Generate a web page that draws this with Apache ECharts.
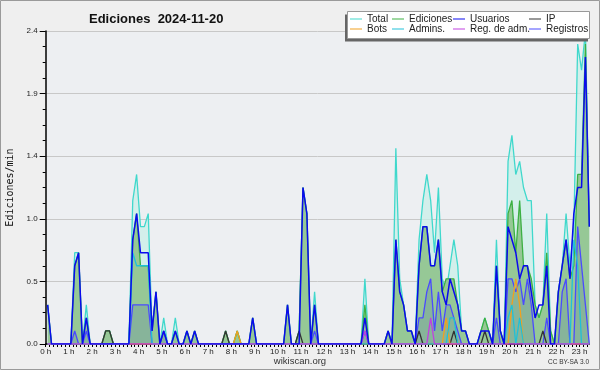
<!DOCTYPE html>
<html><head><meta charset="utf-8">
<script src="https://cdn.jsdelivr.net/npm/echarts@6/dist/echarts.min.js"></script>
<style>html,body{margin:0;padding:0;background:#efefef}#c{width:600px;height:370px}</style>
</head><body><div id="c"></div>
<script>
// 10-minute bins, value = edits per minute (bin centre at index*10+5 minutes)
const hourLabels = ['0 h','1 h','2 h','3 h','4 h','5 h','6 h','7 h','8 h','9 h','10 h','11 h','12 h','13 h','14 h','15 h','16 h','17 h','18 h','19 h','20 h','21 h','22 h','23 h'];
const yTicks = ['0.0','0.5','1.0','1.4','1.9','2.4'];
const total = [
.3,0,0,0,0,0,0,.7,.7,0,
.3,0,0,0,0,.1,.1,0,0,0,
0,0,1.1,1.3,.9,.9,1.0,.1,.4,0,
.2,0,0,.2,0,0,.1,0,.1,0,
0,0,0,0,0,0,.1,0,0,.1,
0,0,0,.2,0,0,0,0,0,0,
0,0,.3,0,0,.1,1.2,1.0,0,.4,
0,0,0,0,0,0,0,0,0,0,
0,0,.5,0,0,0,0,0,.1,0,
1.5,.5,.3,.1,.1,0,.8,1.1,1.3,1.1,
.7,1.2,.5,.4,.6,.8,.6,.1,.1,0,
0,0,.1,.2,.1,0,.8,.1,0,1.4,
1.6,1.3,1.4,1.2,1.1,1.1,.3,.2,.3,1.0,
.1,0,.4,.6,1.0,.6,.9,2.3,2.1,2.4,
.9];
const ediciones = [
.3,0,0,0,0,0,0,.6,.7,0,
.2,0,0,0,0,.1,.1,0,0,0,
0,0,.8,1.0,.6,.6,.6,.1,.4,0,
.1,0,0,.1,0,0,.1,0,.1,0,
0,0,0,0,0,0,.1,0,0,.1,
0,0,0,.2,0,0,0,0,0,0,
0,0,.3,0,0,.1,1.2,1.0,0,.3,
0,0,0,0,0,0,0,0,0,0,
0,0,.3,0,0,0,0,0,.1,0,
.8,.4,.3,.1,.1,0,.6,.9,.9,.6,
.6,.8,.4,.5,.5,.5,.3,.1,.1,0,
0,0,.1,.2,.1,0,.6,.1,0,1.0,
1.1,.7,1.1,.6,.6,.5,.3,.2,.3,.7,
.1,0,.4,.6,.8,.5,.6,1.3,1.3,2.3,
.9];
const usuarios = [
.3,0,0,0,0,0,0,.6,.7,0,
.2,0,0,0,0,0,0,0,0,0,
0,0,.8,1.0,.7,.7,.7,.1,.4,0,
.1,0,0,.1,0,0,.1,0,.1,0,
0,0,0,0,0,0,0,0,0,0,
0,0,0,.2,0,0,0,0,0,0,
0,0,.3,0,0,0,1.2,1.0,0,.3,
0,0,0,0,0,0,0,0,0,0,
0,0,.2,0,0,0,0,0,.1,0,
.8,.4,.3,.1,.1,0,.6,.9,.9,.6,
.6,.8,.4,.3,.5,.4,.3,.1,.1,0,
0,0,.1,.1,.1,0,.6,.1,0,.9,
.8,.7,.5,.6,.6,.4,.2,.3,.3,.6,
0,0,.4,.6,.8,.5,1.0,1.2,1.2,2.2,
.9];
const ip = [
0,0,0,0,0,0,0,0,0,0,
0,0,0,0,0,.1,.1,0,0,0,
0,0,0,0,0,0,0,0,0,0,
0,0,0,0,0,0,0,0,0,0,
0,0,0,0,0,0,.1,0,0,0,
0,0,0,0,0,0,0,0,0,0,
0,0,0,0,0,.1,0,0,0,0,
0,0,0,0,0,0,0,0,0,0,
0,0,0,0,0,0,0,0,0,0,
0,0,0,0,0,0,.1,0,0,0,
0,0,0,0,0,.1,0,0,0,0,
0,0,0,.1,0,0,0,0,0,0,
0,0,0,0,0,0,0,0,.1,0,
0,0,0,0,0,0,0,0,0,0,
0];
const bots = [
0,0,0,0,0,0,0,0,0,0,
0,0,0,0,0,0,0,0,0,0,
0,0,0,0,0,0,0,0,0,0,
0,0,0,0,0,0,0,0,0,0,
0,0,0,0,0,0,0,0,0,.1,
0,0,0,0,0,0,0,0,0,0,
0,0,0,0,0,0,0,0,0,0,
0,0,0,0,0,0,0,0,0,0,
0,0,0,0,0,0,0,0,0,0,
0,0,0,0,0,0,0,0,0,0,
0,0,0,.2,0,0,0,0,0,0,
0,0,0,0,0,0,0,0,0,0,
.3,.5,.3,0,0,0,0,0,0,0,
0,0,0,0,0,0,0,0,0,0,
0];
const admins = [
0,0,0,0,0,0,0,0,0,0,
0,0,0,0,0,0,0,0,0,0,
0,0,.7,.6,.6,.6,.6,0,0,0,
0,0,0,0,0,0,0,0,0,0,
0,0,0,0,0,0,0,0,0,0,
0,0,0,0,0,0,0,0,0,0,
0,0,0,0,0,0,0,0,0,0,
0,0,0,0,0,0,0,0,0,0,
0,0,0,0,0,0,0,0,0,0,
0,0,0,0,0,0,0,0,0,0,
0,0,0,0,.2,.2,0,0,0,0,
0,0,0,0,0,0,0,0,0,.2,
.3,0,.2,0,0,0,0,0,0,0,
0,0,0,0,0,0,.8,.6,0,0,
0];
const regAdm = [
0,0,0,0,0,0,0,0,0,0,
0,0,0,0,0,0,0,0,0,0,
0,0,0,0,0,0,0,0,0,0,
0,0,0,0,0,0,0,0,0,0,
0,0,0,0,0,0,0,0,0,0,
0,0,0,0,0,0,0,0,0,0,
0,0,0,0,0,0,0,0,0,0,
0,0,0,0,0,0,0,0,0,0,
0,0,.1,0,0,0,0,0,0,0,
0,0,0,0,0,0,0,0,0,.2,
0,0,0,0,0,0,0,0,0,0,
0,0,0,0,0,0,0,0,0,0,
0,0,0,0,0,0,0,0,0,0,
0,0,0,0,0,0,0,0,0,0,
0];
const registros = [
0,0,0,0,0,0,0,.1,0,0,
.1,0,0,0,0,0,0,0,0,0,
0,0,.3,.3,.3,.3,.3,0,0,0,
.1,0,0,0,0,0,0,0,0,0,
0,0,0,0,0,0,0,0,0,0,
0,0,0,0,0,0,0,0,0,0,
0,0,0,0,0,0,0,0,0,.1,
0,0,0,0,0,0,0,0,0,0,
0,0,.1,0,0,0,0,0,0,0,
0,0,0,0,0,0,.2,.2,.4,.5,
.1,.4,.1,.3,.3,.2,.1,0,0,0,
0,0,0,0,0,0,.2,0,0,.5,
.5,.4,.5,.3,.5,.3,0,0,0,.2,
0,0,0,.4,.5,0,0,.9,.6,.3,
0];

const BIN = 10;
const toPairs = arr => arr.map((v, i) => [i * BIN + BIN / 2, v]);
const lastT = (total.length - 1) * BIN + BIN / 2;

function line(name, arr, color, width, area, z) {
  const s = {
    name, type: 'line', data: toPairs(arr), showSymbol: false, symbol: 'none',
    lineStyle: { color, width }, itemStyle: { color }, z, animation: false,
    emphasis: { disabled: true }
  };
  if (area) s.areaStyle = { color: area, opacity: 1 };
  return s;
}

const chart = echarts.init(document.getElementById('c'));
const legBase = {
  orient: 'vertical', top: 14, itemWidth: 12, itemHeight: 1, itemGap: 0, padding: 0,
  icon: 'rect', selectedMode: false, z: 30,
  textStyle: { fontFamily: 'Liberation Sans', fontSize: 10, lineHeight: 10, color: '#222' }
};
chart.setOption({
  backgroundColor: '#efefef',
  animation: false,
  title: {
    text: 'Ediciones  2024-11-20', left: 84, top: 8,
    textStyle: { fontFamily: 'Liberation Sans', fontWeight: 'bold', fontSize: 13, color: '#111' }
  },
  graphic: [
    { type: 'rect', shape: { x: 0.5, y: 0.5, width: 599, height: 369 }, style: { fill: 'none', stroke: '#9a9a9a', lineWidth: 1 }, z: 100 },
    { type: 'rect', shape: { x: 345, y: 14.5, width: 243, height: 27 }, style: { fill: '#666' }, z: 20 },
    { type: 'rect', shape: { x: 347.5, y: 11.5, width: 242, height: 27 }, style: { fill: '#fff', stroke: '#999', lineWidth: 1 }, z: 21 },
    { type: 'text', x: 300, y: 361, style: { text: 'wikiscan.org', font: '9.5px "Liberation Sans"', fill: '#333', align: 'center', verticalAlign: 'middle' }, z: 10 },
    { type: 'text', x: 589, y: 362.5, style: { text: 'CC BY-SA 3.0', font: '6.5px "Liberation Sans"', fill: '#333', align: 'right', verticalAlign: 'middle' }, z: 10 }
  ],
  legend: [
    Object.assign({}, legBase, { left: 350, data: ['Total', 'Bots'] }),
    Object.assign({}, legBase, { left: 392, data: ['Ediciones', 'Admins.'] }),
    Object.assign({}, legBase, { left: 453, data: ['Usuarios', 'Reg. de adm.'] }),
    Object.assign({}, legBase, { left: 529, data: ['IP', 'Registros'] })
  ],
  grid: { left: 45.7, right: 10.7, top: 31, bottom: 26, show: true, backgroundColor: '#edeff2', borderWidth: 0, outerBoundsMode: 'none', containLabel: false },
  xAxis: {
    type: 'value', min: 0, max: lastT, interval: BIN,
    axisLine: { lineStyle: { color: '#000', width: 1.5 } },
    axisTick: { length: 3, lineStyle: { color: '#000', width: 1 } },
    splitLine: { show: false },
    axisLabel: {
      margin: 4, fontFamily: 'Liberation Sans', fontSize: 8, color: '#222', showMaxLabel: false,
      formatter: v => (v % 60 === 0 ? hourLabels[v / 60] : '')
    }
  },
  yAxis: {
    type: 'value', min: 0, max: 2.4, interval: 0.48,
    name: 'Ediciones/min', nameLocation: 'middle', nameRotate: 90, nameGap: 30,
    nameTextStyle: { fontFamily: 'DejaVu Sans Mono', fontSize: 10, color: '#111' },
    axisLine: { show: true, lineStyle: { color: '#000', width: 1.5 } },
    axisTick: { show: true, length: 6, lineStyle: { color: '#000' } },
    minorTick: { show: true, splitNumber: 4, length: 3, lineStyle: { color: '#000' } },
    splitLine: { lineStyle: { color: '#c8c8c8', width: 1 } },
    axisLabel: {
      margin: 8, fontFamily: 'Liberation Sans', fontSize: 8, color: '#222',
      formatter: (v) => yTicks[Math.round(v / 0.48)]
    }
  },
  series: [
    line('Total', total, '#40d8cc', 1.3, 'rgba(200,240,232,0.7)', 1),
    line('Ediciones', ediciones, '#3cb043', 1.3, '#96c896', 2),
    line('Registros', registros, '#4a4aff', 1.3, 'rgba(80,110,170,0.22)', 3),
    line('IP', ip, '#333333', 1.3, null, 4),
    line('Bots', bots, '#f0a020', 1.3, null, 4),
    line('Admins.', admins, '#20c0d8', 1.3, null, 4),
    line('Reg. de adm.', regAdm, '#c040e0', 1.3, null, 4),
    line('Usuarios', usuarios, '#0a0aee', 1.5, null, 5)
  ]
});
</script></body></html>
